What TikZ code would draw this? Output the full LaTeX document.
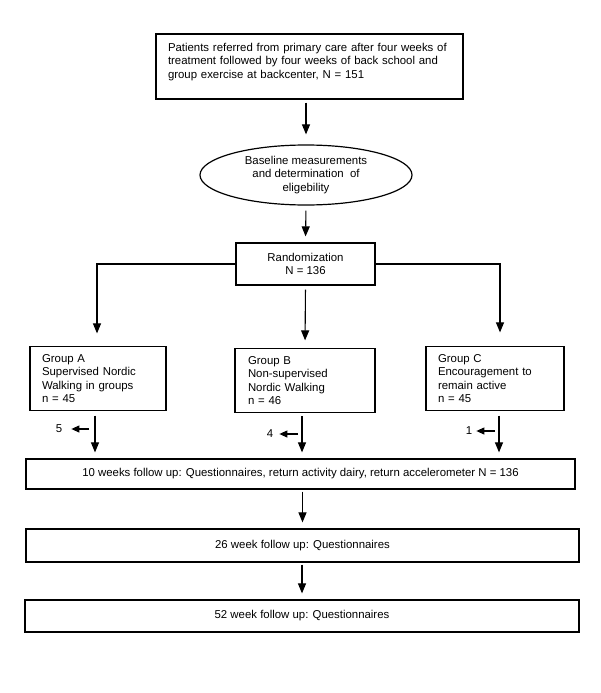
\documentclass[tikz,border=0pt]{standalone}
\usepackage{fontspec}
\setmainfont{Liberation Sans}
\usetikzlibrary{shapes,arrows,positioning,calc,arrows.meta}

\begin{document}
\begin{tikzpicture}[x=1pt,y={(0pt,-1pt)},
    box/.style={draw, line width=1.2pt, font=\fontsize{11.4}{13.6}\selectfont},
    grp/.style={box, minimum height=64pt, align=left, inner xsep=12pt},
    wide/.style={box, minimum height=32pt},
    arr/.style={line width=1.1pt, -{Triangle[width=8pt,length=10pt]}, shorten >=6pt},
    droparr/.style={line width=1.1pt, -{Triangle[width=7pt,length=8pt]}},
    drop/.style={inner sep=0pt, font=\fontsize{11.4}{12}\selectfont}]
    \useasboundingbox (0,0) rectangle (600,693);

    % Referral and baseline
    \node[box, minimum width=307pt, minimum height=65pt, text width=283pt, align=left, inner xsep=12pt, text depth=39pt] (pat) at (309.5,66.5)
        {Patients referred from primary care after four weeks of\\treatment followed by four weeks of back school and\\group exercise at backcenter, N = 151};
    \node[draw, ellipse, line width=1.2pt, minimum width=212pt, minimum height=60pt, inner sep=0pt, align=center, font=\fontsize{11.4}{13.6}\selectfont] (base) at (306,175)
        {Baseline measurements\\and determination\ \ of\\eligebility};
    \node[box, minimum width=139pt, minimum height=42pt, align=center] (rand) at (305.5,264) {Randomization\\N = 136};

    % Groups
    \node[grp, text width=112pt] (grpA) at (98,378.5) {Group A\\Supervised Nordic\\Walking in groups\\n = 45};
    \node[grp, text width=114pt, inner xsep=13pt] (grpB) at (305,380.5) {Group B\\Non-supervised\\Nordic Walking\\n = 46};
    \node[grp, text width=114pt] (grpC) at (495,378.5) {Group C\\Encouragement to\\remain active\\n = 45};

    % Follow ups
    \node[wide, minimum width=549pt, minimum height=30pt] (ten) at (300.5,474) {10 weeks follow up: Questionnaires, return activity dairy, return accelerometer N = 136};
    \node[wide, minimum width=553pt, minimum height=33pt] (twsix) at (302.5,545.5) {26 week follow up: Questionnaires};
    \node[wide, minimum width=554pt] (fiftwo) at (302,616) {52 week follow up: Questionnaires};

    % Main flow
    \draw[arr, shorten <=3pt, shorten >=10pt] (pat.south -| base.north) -- (base.north);
    \draw[arr, shorten <=5pt] (base.south) -- (rand.north);
    \draw[arr, shorten >=12.5pt] (rand.west) -| ([xshift=-1pt]grpA.north);
    \draw[arr, shorten >=13.5pt] (rand.east) -| ([xshift=5pt]grpC.north);
    \draw[arr, shorten <=4pt, shorten >=7.5pt] (rand.south) -- (grpB.north);
    \draw[arr, shorten <=4.5pt] ([xshift=-3pt]grpA.south) -- ([xshift=-3pt]grpA.south |- ten.north);
    \draw[arr, shorten <=3pt] ([xshift=-3pt]grpB.south) -- ([xshift=-3pt]grpB.south |- ten.north);
    \draw[arr, shorten <=4.5pt] ([xshift=4pt]grpC.south) -- ([xshift=4pt]grpC.south |- ten.north);
    \draw[arr, shorten <=2pt] (ten.south -| twsix.north) -- (twsix.north);
    \draw[arr, shorten <=2pt] (twsix.south -| fiftwo.north) -- (fiftwo.north);

    % Drop outs
    \node[drop] (outA) at (59,429) {5};
    \node[drop] (outB) at (270,434) {4};
    \node[drop] (outC) at (469,431) {1};
    \coordinate (jA) at (89,429);
    \coordinate (jB) at (298,434);
    \coordinate (jC) at (495,431);
    \draw[droparr, shorten >=9pt] (jA) -- (outA);
    \draw[droparr, shorten >=6pt] (jB) -- (outB);
    \draw[droparr, shorten >=4pt] (jC) -- (outC);
\end{tikzpicture}
\end{document}
